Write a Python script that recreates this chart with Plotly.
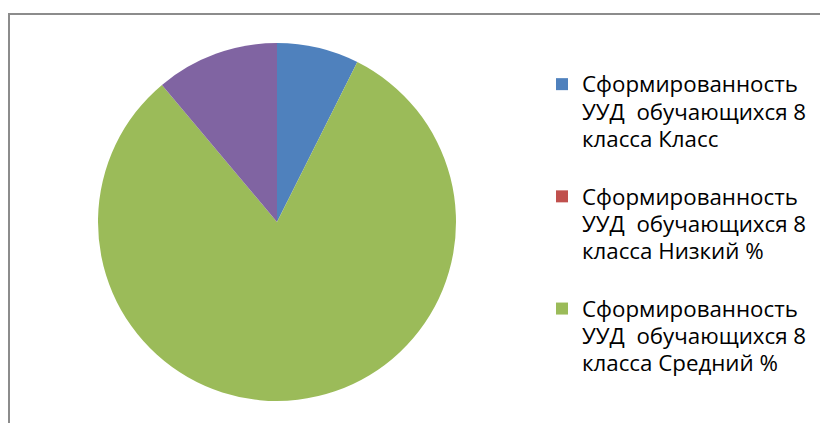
import plotly.graph_objects as go

# ---- data ----
categories = ["Класс", "Низкий %", "Средний %", "Высокий %"]
values = [8, 0, 88, 12]
colours = ["#4F81BD", "#C0504D", "#9BBB59", "#8064A2"]


def legend_label(cat, blank_lines=1):
    # line spacing comes from the legend font, glyph size from the span
    lines = ["Сформированность", "УУД\u00a0 обучающихся 8", "класса " + cat]
    txt = "<br>".join('<span style="font-size:22.3px">%s</span>' % l for l in lines)
    return txt + "<br> " * blank_lines


# the last entry is pushed below the crop, like in the original
labels = [legend_label(c, 3 if i == 2 else 1) for i, c in enumerate(categories)]

# page body has an 8px margin, so all positions below are shifted by -8px
W, H = 828, 423

fig = go.Figure()
fig.add_trace(go.Pie(
    labels=labels,
    values=values,
    sort=False,
    direction='clockwise',
    rotation=0,
    marker=dict(colors=colours, line=dict(width=0)),
    textinfo='none',
    hoverinfo='label+value',
    domain=dict(x=[90 / W, 448 / W], y=[1 - 393 / H, 1 - 35 / H]),
))

# chart frame (right / bottom edges fall outside the crop)
fig.add_shape(type='rect', xref='paper', yref='paper',
              x0=1 / W, x1=1.2, y0=-0.2, y1=1 - 6 / H,
              line=dict(color='#8C8C8C', width=2), fillcolor='rgba(0,0,0,0)')

fig.update_layout(
    width=W, height=H,
    margin=dict(l=0, r=0, t=0, b=0, autoexpand=False),
    paper_bgcolor='white',
    plot_bgcolor='white',
    showlegend=True,
    legend=dict(
        x=534 / W, xanchor='left',
        y=1 - 56 / H, yanchor='top',
        valign='top',
        font=dict(family='Open Sans', size=21, color='black'),
        bgcolor='rgba(0,0,0,0)',
    ),
)

fig.write_html("out.html", config={'staticPlot': True})
